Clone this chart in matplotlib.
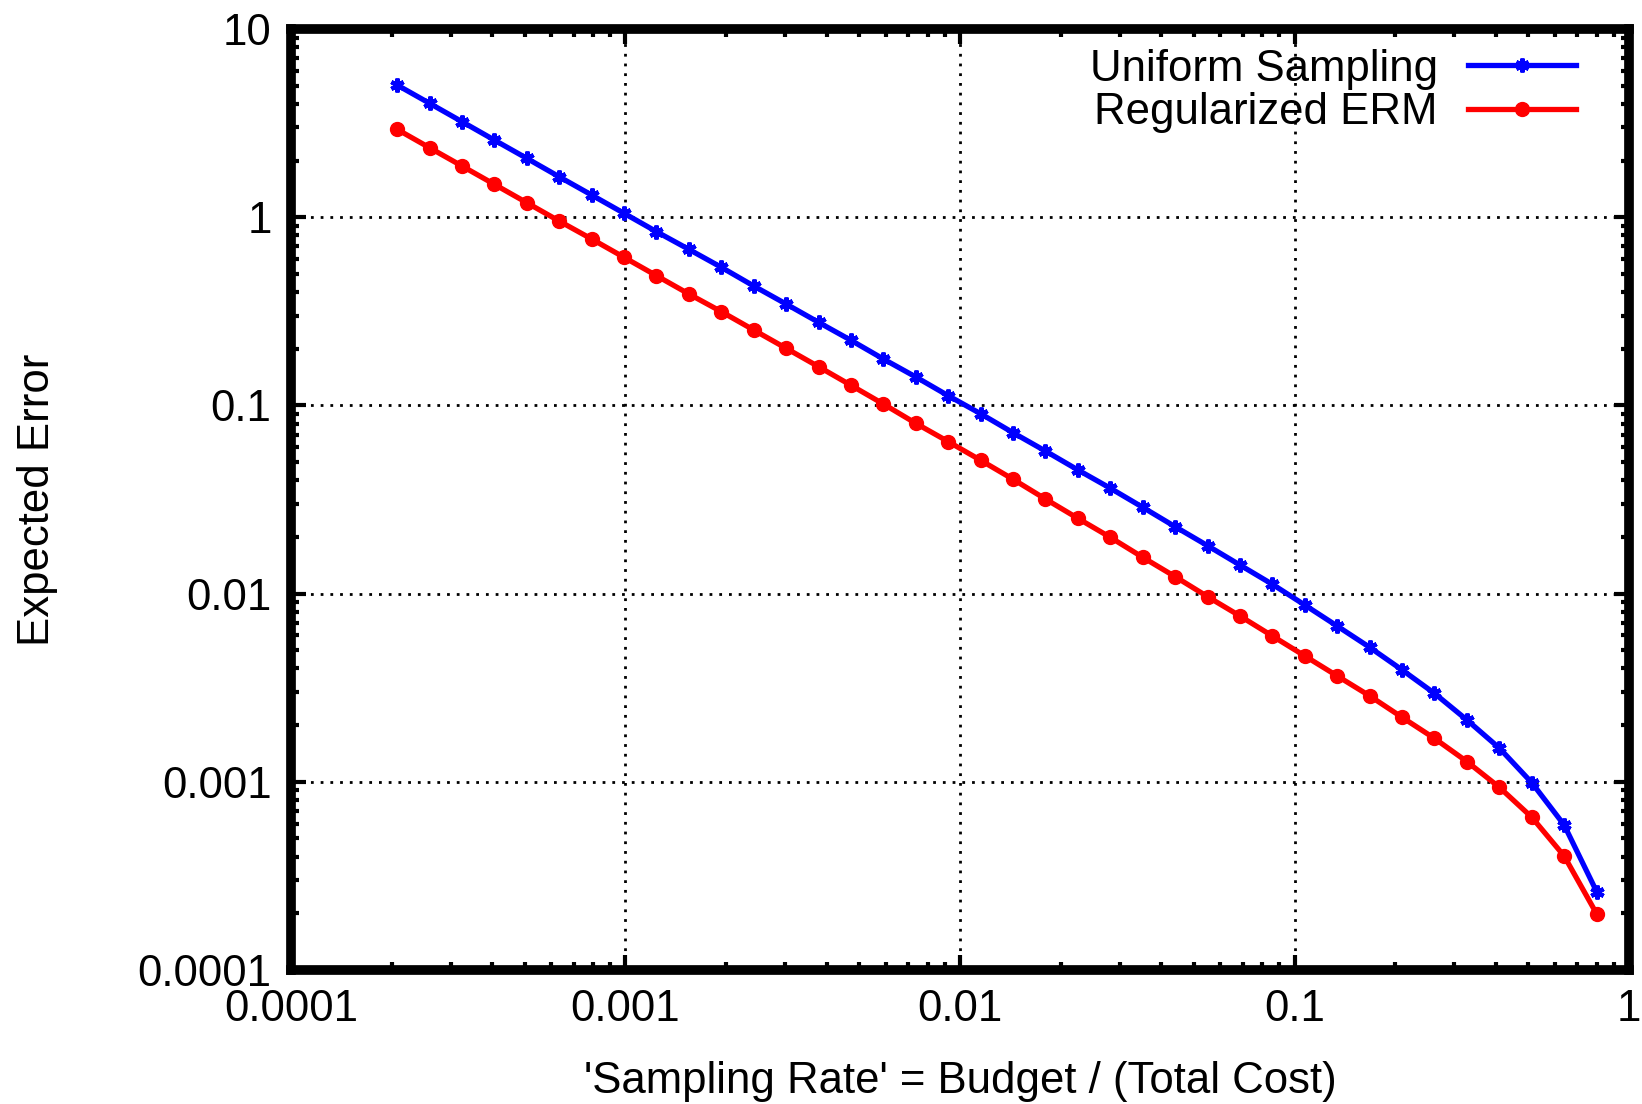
import matplotlib
matplotlib.use("Agg")
import matplotlib.pyplot as plt
from matplotlib.ticker import LogLocator, FixedLocator, NullFormatter

plt.rcParams['font.family'] = ['Liberation Sans', 'DejaVu Sans']

# sampling rate (x) and expected error for the two methods
rate = [0.0002077, 0.0002596, 0.0003245, 0.0004056, 0.0005071, 0.0006338,
        0.0007923, 0.0009904, 0.001238, 0.001547, 0.001934, 0.002418,
        0.003022, 0.003778, 0.004722, 0.005903, 0.007379, 0.009223,
        0.01153, 0.01441, 0.01801, 0.02252, 0.02815, 0.03518,
        0.04398, 0.05498, 0.06872, 0.08590, 0.1074, 0.1342,
        0.1678, 0.2097, 0.2621, 0.3277, 0.4096, 0.512, 0.64, 0.8]

uniform = [5.04, 4.03, 3.22, 2.57, 2.055, 1.64, 1.312, 1.049, 0.838, 0.675,
           0.542, 0.431, 0.3457, 0.2764, 0.2218, 0.1764, 0.1416, 0.1126,
           0.0903, 0.0716, 0.0572, 0.0454, 0.0363, 0.02874, 0.02267,
           0.01797, 0.01418, 0.0112, 0.00869, 0.00672, 0.00518, 0.00393,
           0.00295, 0.00213, 0.00151, 0.000989, 0.000589, 0.000261]

regularized = [2.93, 2.34, 1.871, 1.495, 1.194, 0.954, 0.766, 0.612, 0.489,
               0.391, 0.315, 0.2515, 0.2011, 0.1606, 0.1279, 0.1017, 0.0803,
               0.0642, 0.0511, 0.0405, 0.0318, 0.0251, 0.0199, 0.01559,
               0.0123, 0.00963, 0.0076, 0.00595, 0.00466, 0.00365, 0.00286,
               0.0022, 0.0017, 0.00128, 0.000935, 0.000648, 0.000403, 0.000199]

x_ticks = [0.0001, 0.001, 0.01, 0.1, 1]
x_labels = ["0.0001", "0.001", "0.01", "0.1", "1"]
y_ticks = [0.0001, 0.001, 0.01, 0.1, 1, 10]
y_labels = ["0.0001", "0.001", "0.01", "0.1", "1", "10"]

FS = 31.5

fig = plt.figure(figsize=(16.42, 11.04), dpi=100)
ax = fig.add_axes([0.1772, 0.1214, 0.8149, 0.8523])

ax.plot(rate, uniform, color=(0, 0, 1), lw=3.8, marker=(6, 2, 0),
        ms=10, mew=3, label="Uniform Sampling")
ax.plot(rate, regularized, color=(1, 0, 0), lw=3.8, marker="o",
        ms=10, label="Regularized ERM")

ax.set_xscale("log")
ax.set_yscale("log")
ax.set_xlim(0.0001, 1)
ax.set_ylim(0.0001, 10)

ax.xaxis.set_major_locator(FixedLocator(x_ticks))
ax.set_xticklabels(x_labels)
ax.yaxis.set_major_locator(FixedLocator(y_ticks))
ax.set_yticklabels(y_labels)
ax.xaxis.set_minor_locator(LogLocator(base=10, subs=range(2, 10)))
ax.yaxis.set_minor_locator(LogLocator(base=10, subs=range(2, 10)))
ax.xaxis.set_minor_formatter(NullFormatter())
ax.yaxis.set_minor_formatter(NullFormatter())

ax.tick_params(which="both", direction="in", top=True, right=True,
               labelsize=FS, width=3)
ax.tick_params(which="major", length=11, pad=14)
ax.tick_params(which="minor", length=6)

for s in ax.spines.values():
    s.set_linewidth(7)

ax.grid(True, which="major", color="black", linestyle=(0, (1, 2.5)), lw=2)

ax.set_xlabel("'Sampling Rate' = Budget / (Total Cost)", fontsize=FS, labelpad=22)
ax.set_ylabel("Expected Error", fontsize=FS, labelpad=57)

ax.legend(loc="upper right", bbox_to_anchor=(0.96, 0.979), frameon=False,
          fontsize=FS, markerfirst=False, handlelength=2.45,
          handletextpad=0.7, labelspacing=0.05, borderaxespad=0,
          borderpad=0, numpoints=1)

fig.savefig("out.png", dpi=100)
